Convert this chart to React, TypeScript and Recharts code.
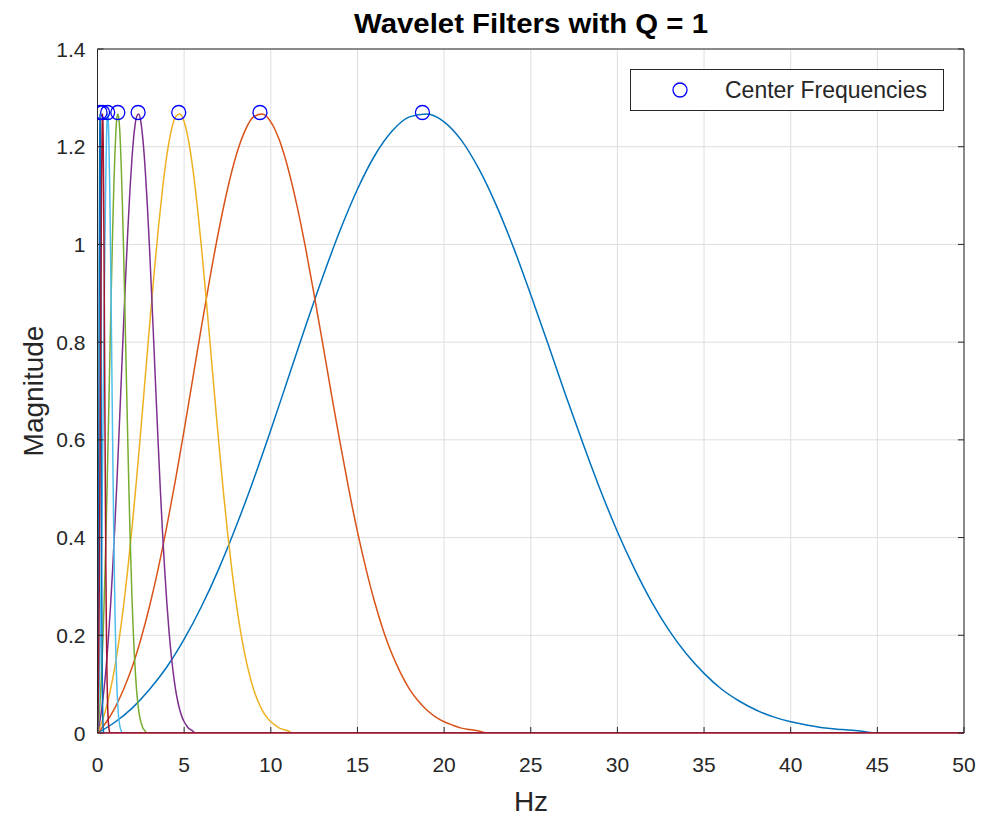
import {
  CartesianGrid,
  ComposedChart,
  Legend,
  Line,
  Scatter,
  XAxis,
  YAxis,
} from "recharts";

const FONT = '"Liberation Sans", Arial, Helvetica, sans-serif';
const INK = "#262626";

const xTicks = [0, 5, 10, 15, 20, 25, 30, 35, 40, 45, 50];
const yTicks = [0, 0.2, 0.4, 0.6, 0.8, 1, 1.2, 1.4];

const nyquistHz = 50;
const peakMag = 1.27;
const centerHz = [18.75, 9.375, 4.6875, 2.34375, 1.171875, 0.5859375, 0.29296875, 0.146484375];

// magnitude of each filter, read on an even Hz grid (step in Hz below), zero after the last value
const magQ18 = [0, 0.022, 0.051, 0.089, 0.135, 0.192, 0.259, 0.336, 0.423, 0.518, 0.62, 0.726, 0.832, 0.934, 1.029, 1.113, 1.182, 1.232, 1.261, 1.267, 1.251, 1.213, 1.155, 1.081, 0.994, 0.897, 0.796, 0.693, 0.594, 0.499, 0.412, 0.335, 0.267, 0.209, 0.161, 0.122, 0.09, 0.066, 0.047, 0.033, 0.023, 0.016, 0.01, 0.007, 0.004, 0];
const magQ9 = [0, 0.022, 0.051, 0.089, 0.135, 0.192, 0.259, 0.336, 0.423, 0.518, 0.62, 0.726, 0.832, 0.934, 1.029, 1.113, 1.182, 1.232, 1.261, 1.267, 1.251, 1.213, 1.155, 1.081, 0.994, 0.897, 0.796, 0.693, 0.594, 0.499, 0.412, 0.335, 0.267, 0.209, 0.161, 0.122, 0.09, 0.066, 0.047, 0.033, 0.023, 0.016, 0.01, 0.007, 0.004, 0];
const magQ4 = [0, 0.022, 0.051, 0.089, 0.135, 0.192, 0.259, 0.336, 0.423, 0.518, 0.62, 0.726, 0.832, 0.934, 1.029, 1.113, 1.182, 1.232, 1.261, 1.267, 1.251, 1.213, 1.155, 1.081, 0.994, 0.897, 0.796, 0.693, 0.594, 0.499, 0.412, 0.335, 0.267, 0.209, 0.161, 0.122, 0.09, 0.066, 0.047, 0.033, 0.023, 0.016, 0.01, 0.007, 0.004, 0];
const magQ2 = [0, 0.022, 0.051, 0.089, 0.135, 0.192, 0.259, 0.336, 0.423, 0.518, 0.62, 0.726, 0.832, 0.934, 1.029, 1.113, 1.182, 1.232, 1.261, 1.267, 1.251, 1.213, 1.155, 1.081, 0.994, 0.897, 0.796, 0.693, 0.594, 0.499, 0.412, 0.335, 0.267, 0.209, 0.161, 0.122, 0.09, 0.066, 0.047, 0.033, 0.023, 0.016, 0.01, 0.007, 0.004, 0];
const magQ1 = [0, 0.022, 0.051, 0.089, 0.135, 0.192, 0.259, 0.336, 0.423, 0.518, 0.62, 0.726, 0.832, 0.934, 1.029, 1.113, 1.182, 1.232, 1.261, 1.267, 1.251, 1.213, 1.155, 1.081, 0.994, 0.897, 0.796, 0.693, 0.594, 0.499, 0.412, 0.335, 0.267, 0.209, 0.161, 0.122, 0.09, 0.066, 0.047, 0.033, 0.023, 0.016, 0.01, 0.007, 0.004, 0];
const magQhalf = [0, 0.022, 0.051, 0.089, 0.135, 0.192, 0.259, 0.336, 0.423, 0.518, 0.62, 0.726, 0.832, 0.934, 1.029, 1.113, 1.182, 1.232, 1.261, 1.267, 1.251, 1.213, 1.155, 1.081, 0.994, 0.897, 0.796, 0.693, 0.594, 0.499, 0.412, 0.335, 0.267, 0.209, 0.161, 0.122, 0.09, 0.066, 0.047, 0.033, 0.023, 0.016, 0.01, 0.007, 0.004, 0];
const magQquarter = [0, 0.022, 0.051, 0.089, 0.135, 0.192, 0.259, 0.336, 0.423, 0.518, 0.62, 0.726, 0.832, 0.934, 1.029, 1.113, 1.182, 1.232, 1.261, 1.267, 1.251, 1.213, 1.155, 1.081, 0.994, 0.897, 0.796, 0.693, 0.594, 0.499, 0.412, 0.335, 0.267, 0.209, 0.161, 0.122, 0.09, 0.066, 0.047, 0.033, 0.023, 0.016, 0.01, 0.007, 0.004, 0];
const magQeighth = [0, 0.022, 0.051, 0.089, 0.135, 0.192, 0.259, 0.336, 0.423, 0.518, 0.62, 0.726, 0.832, 0.934, 1.029, 1.113, 1.182, 1.232, 1.261, 1.267, 1.251, 1.213, 1.155, 1.081, 0.994, 0.897, 0.796, 0.693, 0.594, 0.499, 0.412, 0.335, 0.267, 0.209, 0.161, 0.122, 0.09, 0.066, 0.047, 0.033, 0.023, 0.016, 0.01, 0.007, 0.004, 0];

// drawn in this order, the dark red one last so it sits on the zero line
const filters = [
  { key: "f1", mag: magQ18, step: 1, color: "#0072BD" },
  { key: "f2", mag: magQ9, step: 0.5, color: "#D95319" },
  { key: "f3", mag: magQ4, step: 0.25, color: "#EDB120" },
  { key: "f4", mag: magQ2, step: 0.125, color: "#7E2F8E" },
  { key: "f5", mag: magQ1, step: 0.0625, color: "#77AC30" },
  { key: "f6", mag: magQhalf, step: 0.03125, color: "#4DBEEE" },
  { key: "f8", mag: magQeighth, step: 0.0078125, color: "#0072BD" },
  { key: "f7", mag: magQquarter, step: 0.015625, color: "#A2142F" },
];

const rows = (mag: number[], step: number) => [
  ...mag.map((m, i) => ({ hz: i * step, mag: m })),
  { hz: nyquistHz, mag: 0 },
];

const centers = centerHz.map((hz) => ({ hz, mag: peakMag }));

function BottomTick({ x, y, payload }: any) {
  return (
    <g>
      <line x1={x} x2={x} y1={y} y2={y - 6} stroke={INK} />
      <text x={x} y={y + 31} textAnchor="middle" dominantBaseline="central" fontSize={21} fill={INK} fontFamily={FONT}>
        {payload.value}
      </text>
    </g>
  );
}

function LeftTick({ x, y, payload }: any) {
  return (
    <g>
      <line x1={x} x2={x + 6} y1={y} y2={y} stroke={INK} />
      <text x={x - 12} y={y} textAnchor="end" dominantBaseline="central" fontSize={21} fill={INK} fontFamily={FONT}>
        {String(payload.value)}
      </text>
    </g>
  );
}

function TopTick({ x, y }: any) {
  return <line x1={x} x2={x} y1={y} y2={y + 6} stroke={INK} />;
}

function RightTick({ x, y }: any) {
  return <line x1={x} x2={x - 6} y1={y} y2={y} stroke={INK} />;
}

function Ring({ cx, cy }: any) {
  return <circle cx={cx} cy={cy} r={7} fill="none" stroke="#0000FF" strokeWidth={1.3} />;
}

function LegendBox({ payload }: any) {
  const item = (payload || [])[0];
  return (
    <div
      style={{
        boxSizing: "border-box",
        width: 314,
        height: 42,
        border: `1.5px solid ${INK}`,
        background: "#fff",
        display: "flex",
        alignItems: "center",
        fontFamily: FONT,
        fontSize: 23,
        color: INK,
      }}
    >
      <svg width={94} height={20}>
        <circle cx={49} cy={10} r={7} fill="none" stroke="#0000FF" strokeWidth={1.3} />
      </svg>
      <span>{item ? item.value : "Center Frequencies"}</span>
    </div>
  );
}

export default function App() {
  return (
    <div style={{ position: "absolute", left: 0, top: 0, width: 984, height: 815, background: "#fff" }}>
      <ComposedChart width={984} height={815} margin={{ top: 0, right: 0, left: 0, bottom: 0 }}>
        <CartesianGrid stroke="#dedede" />
        <XAxis
          dataKey="hz"
          type="number"
          domain={[0, 50]}
          ticks={xTicks}
          height={82}
          tickSize={0}
          tickMargin={0}
          tick={<BottomTick />}
          axisLine={{ stroke: "#A2142F", strokeWidth: 1.5 }}
          allowDataOverflow
        />
        <XAxis
          xAxisId="top"
          orientation="top"
          type="number"
          domain={[0, 50]}
          ticks={xTicks}
          height={49}
          tickSize={0}
          tickMargin={0}
          tick={<TopTick />}
          axisLine={{ stroke: INK }}
          allowDataOverflow
        />
        <YAxis
          type="number"
          domain={[0, 1.4]}
          ticks={yTicks}
          width={97.5}
          tickSize={0}
          tickMargin={0}
          tick={<LeftTick />}
          axisLine={{ stroke: INK }}
          allowDataOverflow
        />
        <YAxis
          yAxisId="right"
          orientation="right"
          type="number"
          domain={[0, 1.4]}
          ticks={yTicks}
          width={20}
          tickSize={0}
          tickMargin={0}
          tick={<RightTick />}
          axisLine={{ stroke: INK }}
          allowDataOverflow
        />
        {filters.map((f) => (
          <Line
            key={f.key}
            data={rows(f.mag, f.step)}
            dataKey="mag"
            type="monotone"
            stroke={f.color}
            strokeWidth={1.5}
            dot={false}
            activeDot={false}
            legendType="none"
            isAnimationActive={false}
          />
        ))}
        <Scatter
          name="Center Frequencies"
          data={centers}
          dataKey="mag"
          shape={<Ring />}
          isAnimationActive={false}
        />
        <Legend
          layout="vertical"
          align="center"
          verticalAlign="middle"
          wrapperStyle={{ top: 69, left: 630, width: 314, height: 42 }}
          content={<LegendBox />}
        />
      </ComposedChart>
      <svg
        width={984}
        height={815}
        style={{ position: "absolute", left: 0, top: 0, pointerEvents: "none" }}
      >
        <text
          x={531}
          y={23}
          textAnchor="middle"
          dominantBaseline="central"
          fontSize={28}
          fontWeight="bold"
          fill="#000"
          fontFamily={FONT}
          textLength={354}
          lengthAdjust="spacingAndGlyphs"
        >
          Wavelet Filters with Q = 1
        </text>
        <text x={531} y={801} textAnchor="middle" dominantBaseline="central" fontSize={28} fill={INK} fontFamily={FONT}>
          Hz
        </text>
        <text
          x={33}
          y={391}
          textAnchor="middle"
          dominantBaseline="central"
          fontSize={28}
          fill={INK}
          fontFamily={FONT}
          transform="rotate(-90 33 391)"
        >
          Magnitude
        </text>
      </svg>
    </div>
  );
}
